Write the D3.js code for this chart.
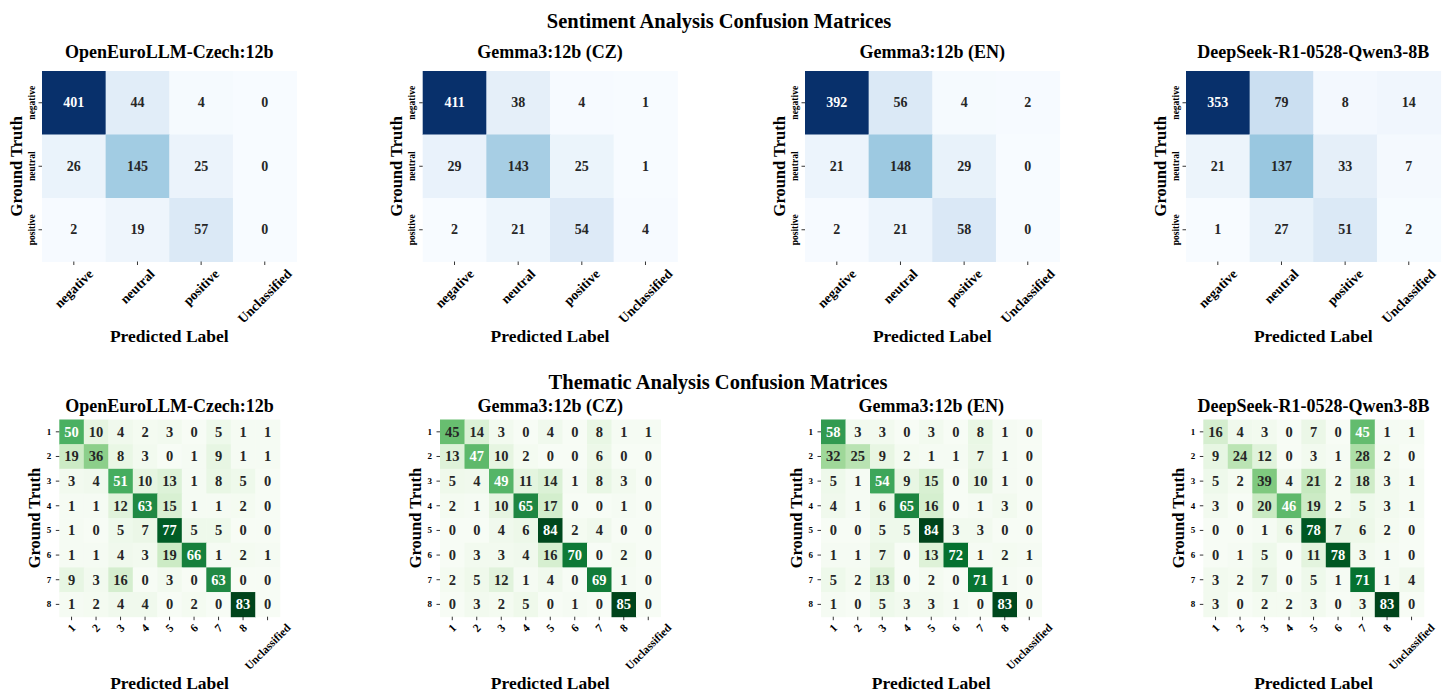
<!DOCTYPE html>
<html>
<head>
<meta charset="utf-8">
<script src="https://cdn.jsdelivr.net/npm/d3@7"></script>
<style>
  body { margin: 0; background: #fff; }
  svg, svg text { font-family: "Liberation Serif", "Times New Roman", serif; font-weight: bold; }
</style>
</head>
<body>
<svg id="chart" width="1449" height="693"></svg>
<script>
// ---- data ----
var modelNames = ["OpenEuroLLM-Czech:12b", "Gemma3:12b (CZ)", "Gemma3:12b (EN)", "DeepSeek-R1-0528-Qwen3-8B"];

var sentTrue = ["negative", "neutral", "positive"];
var sentPred = ["negative", "neutral", "positive", "Unclassified"];

var sentOpenEuro = [[401, 44, 4, 0], [26, 145, 25, 0], [2, 19, 57, 0]];
var sentGemmaCz = [[411, 38, 4, 1], [29, 143, 25, 1], [2, 21, 54, 4]];
var sentGemmaEn = [[392, 56, 4, 2], [21, 148, 29, 0], [2, 21, 58, 0]];
var sentDeepSeek = [[353, 79, 8, 14], [21, 137, 33, 7], [1, 27, 51, 2]];

var themeTrue = ["1", "2", "3", "4", "5", "6", "7", "8"];
var themePred = ["1", "2", "3", "4", "5", "6", "7", "8", "Unclassified"];

var themeOpenEuro = [
    [50, 10, 4, 2, 3, 0, 5, 1, 1],
    [19, 36, 8, 3, 0, 1, 9, 1, 1],
    [3, 4, 51, 10, 13, 1, 8, 5, 0],
    [1, 1, 12, 63, 15, 1, 1, 2, 0],
    [1, 0, 5, 7, 77, 5, 5, 0, 0],
    [1, 1, 4, 3, 19, 66, 1, 2, 1],
    [9, 3, 16, 0, 3, 0, 63, 0, 0],
    [1, 2, 4, 4, 0, 2, 0, 83, 0]
];
var themeGemmaCz = [
    [45, 14, 3, 0, 4, 0, 8, 1, 1],
    [13, 47, 10, 2, 0, 0, 6, 0, 0],
    [5, 4, 49, 11, 14, 1, 8, 3, 0],
    [2, 1, 10, 65, 17, 0, 0, 1, 0],
    [0, 0, 4, 6, 84, 2, 4, 0, 0],
    [0, 3, 3, 4, 16, 70, 0, 2, 0],
    [2, 5, 12, 1, 4, 0, 69, 1, 0],
    [0, 3, 2, 5, 0, 1, 0, 85, 0]
];
var themeGemmaEn = [
    [58, 3, 3, 0, 3, 0, 8, 1, 0],
    [32, 25, 9, 2, 1, 1, 7, 1, 0],
    [5, 1, 54, 9, 15, 0, 10, 1, 0],
    [4, 1, 6, 65, 16, 0, 1, 3, 0],
    [0, 0, 5, 5, 84, 3, 3, 0, 0],
    [1, 1, 7, 0, 13, 72, 1, 2, 1],
    [5, 2, 13, 0, 2, 0, 71, 1, 0],
    [1, 0, 5, 3, 3, 1, 0, 83, 0]
];
var themeDeepSeek = [
    [16, 4, 3, 0, 7, 0, 45, 1, 1],
    [9, 24, 12, 0, 3, 1, 28, 2, 0],
    [5, 2, 39, 4, 21, 2, 18, 3, 1],
    [3, 0, 20, 46, 19, 2, 5, 3, 1],
    [0, 0, 1, 6, 78, 7, 6, 2, 0],
    [0, 1, 5, 0, 11, 78, 3, 1, 0],
    [3, 2, 7, 0, 5, 1, 71, 1, 4],
    [3, 0, 2, 2, 3, 0, 3, 83, 0]
];

// ---- layout ----
var svg = d3.select("#chart");

function luminance(c) {
    var rgb = d3.rgb(c);
    var f = function (v) {
        v = v / 255;
        return v <= 0.03928 ? v / 12.92 : Math.pow((v + 0.055) / 1.055, 2.4);
    };
    return 0.2126 * f(rgb.r) + 0.7152 * f(rgb.g) + 0.0722 * f(rgb.b);
}

function heatmap(opt) {
    var matrix = opt.matrix;
    var w = opt.cellW * opt.cols.length,
        h = opt.cellH * opt.rows.length;
    var g = svg.append("g").attr("transform", "translate(" + opt.x + "," + opt.y + ")");

    var x = d3.scaleBand().domain(d3.range(opt.cols.length)).range([0, w]);
    var y = d3.scaleBand().domain(d3.range(opt.rows.length)).range([0, h]);

    var flat = d3.merge(matrix);
    var lo = d3.min(flat), hi = d3.max(flat);
    var color = d3.scaleLinear()
        .domain(d3.range(9).map(function (i) { return lo + i * (hi - lo) / 8; }))
        .range(opt.scheme)
        .interpolate(d3.interpolateRgb);

    var cells = [];
    matrix.forEach(function (row, r) {
        row.forEach(function (v, c) { cells.push({ r: r, c: c, v: v }); });
    });

    g.selectAll("rect.cell")
        .data(cells)
        .enter().append("rect")
        .attr("class", "cell")
        .attr("x", function (d) { return x(d.c); })
        .attr("y", function (d) { return y(d.r); })
        .attr("width", x.bandwidth() + 0.5)
        .attr("height", y.bandwidth() + 0.5)
        .attr("fill", function (d) { return color(d.v); });

    g.selectAll("text.annot")
        .data(cells)
        .enter().append("text")
        .attr("class", "annot")
        .attr("x", function (d) { return x(d.c) + x.bandwidth() / 2; })
        .attr("y", function (d) { return y(d.r) + y.bandwidth() / 2; })
        .attr("text-anchor", "middle")
        .attr("dominant-baseline", "central")
        .attr("font-size", opt.annotSize)
        .attr("fill", function (d) { return luminance(color(d.v)) > 0.408 ? "#262626" : "#ffffff"; })
        .text(function (d) { return d.v; });

    // x axis
    var xAxis = g.append("g")
        .attr("transform", "translate(0," + h + ")")
        .call(d3.axisBottom(x).tickSize(3.5).tickFormat(function (i) { return opt.cols[i]; }))
        .attr("font-family", null);
    xAxis.select(".domain").remove();
    xAxis.selectAll("line").attr("stroke", "#000").attr("stroke-width", 0.8);
    xAxis.selectAll("text")
        .attr("font-size", opt.xTickSize)
        .attr("fill", "#000")
        .attr("y", null)
        .attr("dy", null)
        .attr("text-anchor", "middle")
        .attr("dominant-baseline", "central")
        .attr("transform", function () {
            var tw = this.getComputedTextLength();
            var off = 3.5 + opt.xTickPad + (tw + opt.xTickSize * 0.75) / (2 * Math.SQRT2);
            return "translate(0," + off + ") rotate(-45)";
        });

    // y axis
    var yAxis = g.append("g")
        .call(d3.axisLeft(y).tickSize(3.5).tickFormat(function (i) { return opt.rows[i]; }))
        .attr("font-family", null);
    yAxis.select(".domain").remove();
    yAxis.selectAll("line").attr("stroke", "#000").attr("stroke-width", 0.8);
    var yt = yAxis.selectAll("text")
        .attr("font-size", opt.yTickSize)
        .attr("fill", "#000")
        .attr("dy", null)
        .attr("dominant-baseline", "central");
    if (opt.yRotate) {
        yt.attr("x", null)
            .attr("text-anchor", "middle")
            .attr("transform", "translate(" + opt.yTickOffset + ",0) rotate(-90)");
    } else {
        yt.attr("x", opt.yTickOffset).attr("text-anchor", "end");
    }

    // titles
    g.append("text")
        .attr("x", w / 2)
        .attr("y", opt.titleY - opt.y)
        .attr("text-anchor", "middle")
        .attr("font-size", 18)
        .text(opt.title);

    g.append("text")
        .attr("x", w / 2)
        .attr("y", opt.xLabelY - opt.y)
        .attr("text-anchor", "middle")
        .attr("font-size", 17.5)
        .text("Predicted Label");

    g.append("text")
        .attr("transform", "translate(" + opt.yLabelOffset + "," + (h / 2) + ") rotate(-90)")
        .attr("text-anchor", "middle")
        .attr("dominant-baseline", "central")
        .attr("font-size", 16.5)
        .text("Ground Truth");
}

var sentMatrices = [sentOpenEuro, sentGemmaCz, sentGemmaEn, sentDeepSeek];
var themeMatrices = [themeOpenEuro, themeGemmaCz, themeGemmaEn, themeDeepSeek];
var sentX = [42, 422.7, 805, 1186];
var themeX = [59.3, 440, 821, 1203.3];

sentMatrices.forEach(function (m, i) {
    heatmap({
        matrix: m, rows: sentTrue, cols: sentPred, title: modelNames[i],
        x: sentX[i], y: 71, cellW: 63.65, cellH: 63.5,
        scheme: d3.schemeBlues[9], annotSize: 14,
        xTickSize: 13.5, xTickPad: 3, yTickSize: 9.5, yRotate: true, yTickOffset: -10.5,
        titleY: 58, xLabelY: 341.5, yLabelOffset: -26
    });
});

themeMatrices.forEach(function (m, i) {
    heatmap({
        matrix: m, rows: themeTrue, cols: themePred, title: modelNames[i],
        x: themeX[i], y: 419.5, cellW: 24.5, cellH: 24.65,
        scheme: d3.schemeGreens[9], annotSize: 14.5,
        xTickSize: 11.5, xTickPad: 2.5, yTickSize: 9, yRotate: false, yTickOffset: -8,
        titleY: 411.5, xLabelY: 689, yLabelOffset: -24.5
    });
});

// figure titles
svg.append("text")
    .attr("x", 719)
    .attr("y", 28)
    .attr("text-anchor", "middle")
    .attr("font-size", 20.5)
    .text("Sentiment Analysis Confusion Matrices");

svg.append("text")
    .attr("x", 718)
    .attr("y", 389)
    .attr("text-anchor", "middle")
    .attr("font-size", 20.5)
    .text("Thematic Analysis Confusion Matrices");
</script>
</body>
</html>
